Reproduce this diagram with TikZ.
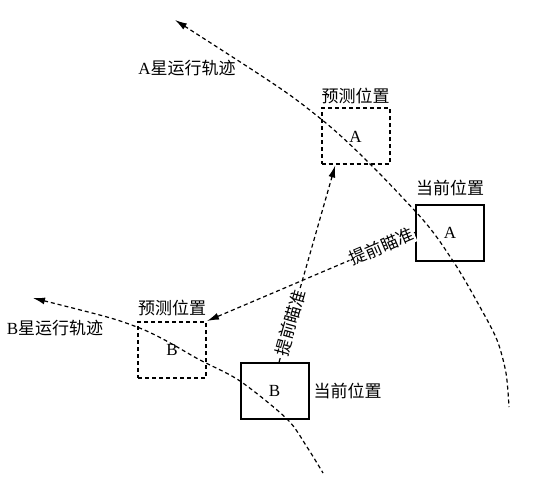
\documentclass[tikz,border=0pt]{standalone}
\usepackage{fontspec}
\setmainfont{Liberation Serif}
\newfontfamily\cjk{Noto Sans CJK SC}
\usetikzlibrary{positioning,arrows.meta}
\tikzset{
  pos box/.style={draw, line width=2pt, minimum width=68pt, minimum height=56pt, inner sep=0pt},
  pred box/.style={pos box, dash pattern=on 4pt off 3pt},
  orbit/.style={line width=1.2pt, dash pattern=on 4pt off 3pt},
  aim/.style={line width=1.2pt, dash pattern=on 4pt off 3pt, -{Latex[length=12pt,width=7pt]}},
  tag/.style={inner sep=1pt, font=\cjk\fontsize{17}{20}\selectfont},
}
\begin{document}
\begin{tikzpicture}[x=1pt,y=-1pt,font=\fontsize{17}{20}\selectfont]
\useasboundingbox (0,0) rectangle (537,478);
% boxes
\node[pred box](pA) at (355.5,136.5) {A};
\node[pos box](cA) at (450,232.5) {A};
\node[pred box](pB) at (172,350) {B};
\node[pos box](cB) at (274.5,391) {B};
% tags
\node[tag, above=2pt of pA](tpA) {预测位置};
\node[tag, above=6pt of cA](tcA) {当前位置};
\node[tag, above=4pt of pB](tpB) {预测位置};
\node[tag, right=3pt of cB](tcB) {当前位置};
\node[inner sep=1pt](oA) at (187,68) {A\cjk 星运行轨迹};
\node[inner sep=1pt](oB) at (55,328) {B\cjk 星运行轨迹};
% orbits
\draw[orbit, {Latex[length=12pt,width=7pt]}-] plot[smooth] coordinates {(175,20) (321,119) (416,212) (453,261) (480,307) (497,340) (506,373) (509,407)};
\draw[orbit, {Latex[length=12pt,width=7pt]}-] plot[smooth] coordinates {(33,298) (137,327) (200,360) (240,381) (287,419) (307,447) (323,473)};
% aiming
\draw[aim] (cA.west) -- node[tag, sloped, fill=white, pos=0.16](aA) {提前瞄准} (pB.north east);
\draw[aim] (cB.81) -- node[tag, sloped, fill=white, pos=0.2](aB) {提前瞄准} (pA.235);
\end{tikzpicture}
\end{document}
